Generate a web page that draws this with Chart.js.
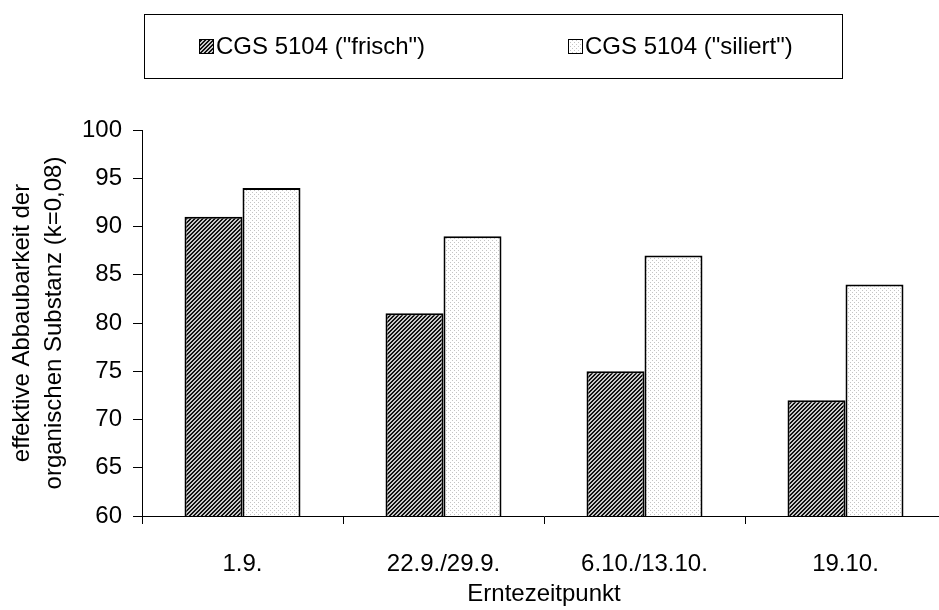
<!DOCTYPE html>
<html lang="de">
<head>
<meta charset="UTF-8">
<script src="https://cdn.jsdelivr.net/npm/chart.js"></script>
<title>Erntezeitpunkt</title>
<style>
  html, body { margin: 0; padding: 0; background: #fff; overflow: hidden; }
  #wrap { position: absolute; left: 0; top: 0; width: 950px; height: 610px; }
</style>
</head>
<body>
<div id="wrap"><canvas id="grafico"></canvas></div>
<script>
// Daten
const kategorien = ['1.9.', '22.9./29.9.', '6.10./13.10.', '19.10.'];
const frisch = [91, 81, 75, 72];
const siliert = [94, 89, 87, 84];
const serien = ['CGS 5104 ("frisch")', 'CGS 5104 ("siliert")'];
const yTicks = [60, 65, 70, 75, 80, 85, 90, 95, 100];

const schrift = 'Liberation Sans, Arial, sans-serif';

// Schraffur-Muster
function muster(zeichne) {
    const c = document.createElement('canvas');
    c.width = 4; c.height = 4;
    const g = c.getContext('2d');
    zeichne(g);
    return g.createPattern(c, 'repeat');
}
const musterFrisch = muster(g => {
    for (let x = 0; x < 4; x++) {
        for (let y = 0; y < 4; y++) {
            g.fillStyle = ((x + y) % 4 < 2) ? '#111' : '#c8c8c8';
            g.fillRect(x, y, 1, 1);
        }
    }
});
const musterSiliert = muster(g => {
    g.fillStyle = '#fff';
    g.fillRect(0, 0, 4, 4);
    g.fillStyle = '#c4c4c4';
    g.fillRect(0, 0, 1, 1);
    g.fillRect(2, 2, 1, 1);
});

// Legende mit Rahmen
const legendePlugin = {
    id: 'legendeBox',
    afterDraw(chart) {
        const ctx = chart.ctx;
        ctx.save();
        ctx.strokeStyle = '#000';
        ctx.lineWidth = 1;
        ctx.strokeRect(144.5, 14.5, 698, 64);
        ctx.font = '24px ' + schrift;
        ctx.textBaseline = 'middle';
        const posX = [199, 568];
        chart.data.datasets.forEach((ds, i) => {
            const x = posX[i];
            ctx.fillStyle = ds.backgroundColor;
            ctx.fillRect(x, 39, 15, 15);
            ctx.strokeStyle = '#000';
            ctx.lineWidth = 1;
            ctx.strokeRect(x + 0.5, 39.5, 14, 14);
            ctx.fillStyle = '#000';
            ctx.fillText(ds.label, x + 17, 47);
        });
        ctx.restore();
    }
};

new Chart(document.getElementById('grafico'), {
    type: 'bar',
    data: {
        labels: kategorien,
        datasets: [{
            label: serien[0],
            data: frisch,
            backgroundColor: musterFrisch,
            borderColor: '#000',
            borderWidth: 2,
            borderSkipped: false
        }, {
            label: serien[1],
            data: siliert,
            backgroundColor: musterSiliert,
            borderColor: '#000',
            borderWidth: 2,
            borderSkipped: false
        }]
    },
    options: {
        responsive: true,
        maintainAspectRatio: false,
        animation: false,
        layout: { padding: { top: 130, right: 4, left: 0, bottom: 0 } },
        datasets: { bar: { categoryPercentage: 0.577, barPercentage: 1 } },
        plugins: {
            legend: { display: false },
            tooltip: { enabled: false }
        },
        scales: {
            x: {
                grid: { drawOnChartArea: false, tickLength: 8, color: '#000', offset: true },
                border: { color: '#000', width: 1 },
                ticks: { color: '#000', font: { family: schrift, size: 24 }, padding: 26 },
                title: {
                    display: true,
                    text: 'Erntezeitpunkt',
                    color: '#000',
                    font: { family: schrift, size: 24 },
                    padding: { top: 0, bottom: 1 }
                },
                afterFit(scale) { scale.height = 94; }
            },
            y: {
                min: 60,
                max: 100,
                afterBuildTicks(scale) { scale.ticks = yTicks.map(v => ({ value: v })); },
                grid: { drawOnChartArea: false, tickLength: 9, color: '#000' },
                border: { color: '#000', width: 1 },
                ticks: { color: '#000', font: { family: schrift, size: 24 }, padding: 11 },
                title: {
                    display: true,
                    text: ['effektive Abbaubarkeit der', 'organischen Substanz (k=0,08)'],
                    color: '#000',
                    font: { family: schrift, size: 24, lineHeight: 1.333 },
                    padding: { top: 6, bottom: 0 }
                },
                afterFit(scale) { scale.width = 142; }
            }
        }
    },
    plugins: [legendePlugin]
});
</script>
</body>
</html>
